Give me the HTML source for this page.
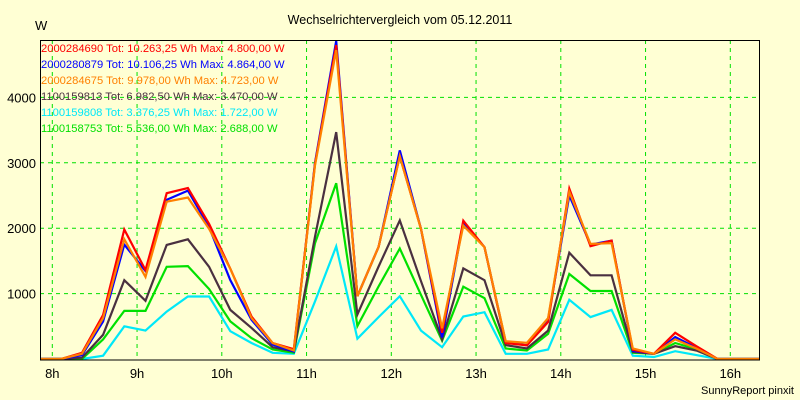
<!DOCTYPE html>
<html><head><meta charset="utf-8"><style>
body{margin:0;background:#ffffd4;}
svg{display:block;font-family:"Liberation Sans",sans-serif;}
</style></head><body>
<svg id="chart" width="800" height="400" xmlns="http://www.w3.org/2000/svg">
<rect x="0" y="0" width="800" height="400" fill="#ffffd4"/>
<text x="400" y="24" font-size="12.5" text-anchor="middle">Wechselrichtervergleich vom 05.12.2011</text>
<text x="35" y="30" font-size="13">W</text>
<text x="794" y="394" font-size="11" text-anchor="end">SunnyReport pinxit</text>
<defs><clipPath id="plotclip"><rect x="40" y="40" width="720" height="320"/></clipPath></defs>
<g id="grid"></g>
<g id="series" clip-path="url(#plotclip)"></g>
<rect x="40.5" y="40.5" width="719" height="319.5" fill="none" stroke="#000" stroke-width="1"/>
<g id="ticks"></g>
<g id="legend"></g>
</svg>
<script>
const xTicks = [8,9,10,11,12,13,14,15,16];
const yTicks = [1000,2000,3000,4000];
const startHour = 7.85;
const stepHour = 0.25;
const seriesNames = ["2000284690","2000280879","2000284675","1100159813","1100159808","1100158753"];
const seriesColors = ["#ff0000","#0000ff","#ff8000","#4a3040","#00e8f8","#00e000"];
const legendLabels = [
"2000284690 Tot: 10.263,25 Wh Max: 4.800,00 W",
"2000280879 Tot: 10.106,25 Wh Max: 4.864,00 W",
"2000284675 Tot: 9.978,00 Wh Max: 4.723,00 W",
"1100159813 Tot: 6.982,50 Wh Max: 3.470,00 W",
"1100159808 Tot: 3.376,25 Wh Max: 1.722,00 W",
"1100158753 Tot: 5.536,00 Wh Max: 2.688,00 W"];
const red    = [0,0,95,675,1980,1360,2535,2615,2065,1380,650,245,150,2980,4800,960,1715,3100,1990,400,2115,1710,245,210,565,2605,1725,1810,140,80,400,195,0,0,0,0];
const blue   = [0,0,60,575,1750,1345,2435,2575,2015,1205,600,220,115,3000,4864,960,1715,3190,1990,330,2090,1710,260,210,610,2500,1750,1810,125,80,335,170,0,0,0,0];
const orange = [0,0,80,625,1830,1255,2405,2470,1990,1380,625,245,130,2960,4723,960,1715,3100,1990,470,2040,1710,272,246,625,2555,1760,1770,160,80,300,160,0,0,0,0];
const dark   = [0,0,20,370,1205,890,1745,1830,1410,750,475,180,115,1870,3470,680,1415,2120,1190,300,1385,1205,212,160,435,1625,1280,1280,110,80,195,130,0,0,0,0];
const cyan   = [0,0,0,50,500,435,725,955,955,425,245,95,80,880,1722,310,640,960,435,180,650,715,80,80,145,905,640,750,50,30,120,60,0,0,0,0];
const green  = [0,0,0,300,735,735,1410,1420,1070,575,320,145,95,1770,2688,505,1110,1690,980,280,1105,930,160,130,385,1300,1040,1040,95,80,245,150,0,0,0,0];
const seriesData = [red,blue,orange,dark,cyan,green];
const drawOrder = [4,5,3,1,0,2];

const NS="http://www.w3.org/2000/svg";
const X0=52.3, PXH=84.75, Y0=359, PXV=0.0654;
function xScale(h){return X0+(h-8)*PXH;}
function yScale(v){return Y0-v*PXV;}
function mk(tag,attrs,parent){const e=document.createElementNS(NS,tag);for(const k in attrs)e.setAttribute(k,attrs[k]);parent.appendChild(e);return e;}
const grid=document.getElementById('grid'), ticks=document.getElementById('ticks'), ser=document.getElementById('series'), leg=document.getElementById('legend');
xTicks.forEach(h=>{
  const x=xScale(h);
  const l=mk('line',{x1:x,y1:40,x2:x,y2:360,stroke:'#00e000','stroke-dasharray':'4,4','stroke-width':1},grid);
  
  
  const t=mk('text',{x:x,y:378,'font-size':13,'text-anchor':'middle'},ticks);
  t.textContent=h+'h';
  
  
});
yTicks.forEach(v=>{
  const y=yScale(v);
  const l=mk('line',{x1:40,y1:y,x2:760,y2:y,stroke:'#00e000','stroke-dasharray':'4,4','stroke-width':1},grid);
  
  
  const t=mk('text',{x:36,y:y+5,'font-size':13,'text-anchor':'end'},ticks);
  t.textContent=v;
  
  
});
drawOrder.forEach(i=>{
  const d=seriesData[i];
  const pts=d.map((v,k)=>xScale(startHour+k*stepHour).toFixed(1)+','+yScale(v).toFixed(1)).join(' ');
  const p=mk('polyline',{points:pts,fill:'none',stroke:seriesColors[i],'stroke-width':2.2,'stroke-linejoin':'miter'},ser);
  
  
});
legendLabels.forEach((s,i)=>{
  const t=mk('text',{x:41,y:52+i*16,'font-size':11.2,fill:seriesColors[i]},leg);
  t.textContent=s;
  
  
});
</script>
</body></html>
